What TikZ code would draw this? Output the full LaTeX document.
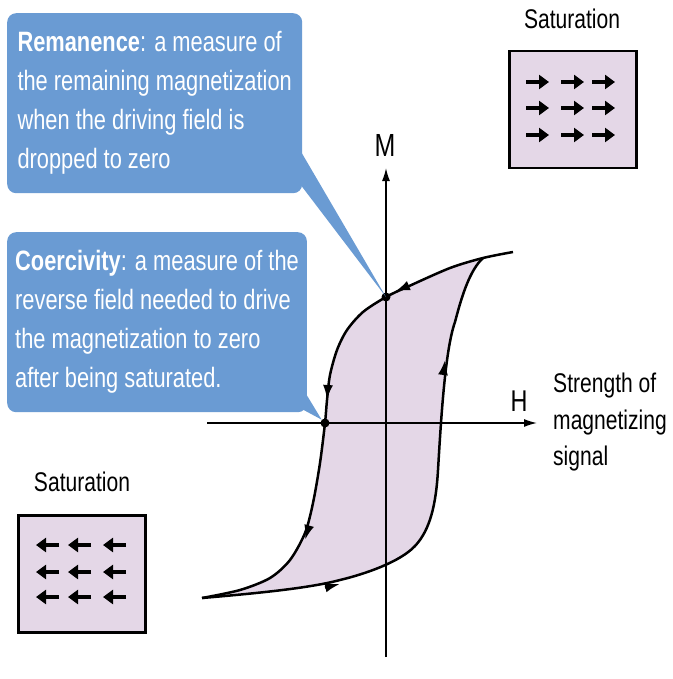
\documentclass[tikz,border=0pt]{standalone}
\usepackage{fontspec}
\setmainfont[FakeStretch=0.78]{Liberation Sans}
\usepackage{tikz}
\usetikzlibrary{arrows.meta,calc,positioning}
\definecolor{bubbleblue}{RGB}{106,155,211}
\definecolor{loopfill}{RGB}{228,215,231}
\tikzset{
  bubble/.style={fill=bubbleblue, rounded corners=9pt, text=white, align=left,
    inner xsep=8pt, minimum width=295pt, minimum height=180pt, anchor=north west,
    font=\fontsize{28}{39}\selectfont},
  satbox/.style={draw=black, line width=2.5pt, fill=loopfill, anchor=north west,
    minimum width=127pt, minimum height=117pt, inner sep=0pt},
  spin/.style={line width=3.6pt, -{Triangle[length=10pt,width=14pt]}},
  looptip/.style={line width=2.5pt, -{Latex[length=15pt,width=10pt]}},
  axis/.style={line width=1.4pt, -{Latex[length=13pt,width=8pt]}},
  dot/.style={circle, fill=black, inner sep=0pt, minimum size=9pt},
}

\begin{document}
\begin{tikzpicture}[x=1pt, y=-1pt, every node/.style={font=\fontsize{27}{36}\selectfont}]
\useasboundingbox (0,0) rectangle (672,679);
% Hysteresis loop (filled)
\fill[loopfill] (202,598) .. controls (260,593) and (310,588) .. (340,580)
    .. controls (365,574) and (400,562) .. (415,546)
    .. controls (430,530) and (436,505) .. (438,470)
    .. controls (441,420) and (445,350) .. (455,322)
    .. controls (462,295) and (470,270) .. (483,258)
  -- plot[smooth] coordinates {(483,258) (450,268) (407,287)
    (386,297) (363,312) (347,330) (337,350) (330,375) (327,400) (325,423) (320,463)
    (313,503) (305,533) (290,560) (270,578) (240,590) (202,598)} -- cycle;
% Axes
\coordinate (hstart) at (207,423);
\coordinate (hend) at (537,423);
\coordinate (mstart) at (386,657);
\coordinate (mend) at (386,168);
\draw[axis] (hstart) -- (hend);
\draw[axis] (mstart) -- (mend);
\node (hname) at (519,401) {\fontsize{30}{30}\selectfont H};
\node (mname) at (385,145) {\fontsize{32}{32}\selectfont M};
\node[anchor=north west, inner sep=0pt, align=left, font=\fontsize{27}{36.5}\selectfont]
  (hsignal) at (553,373) {Strength of\\magnetizing\\signal};
% Loop branches
\draw[line width=2.5pt]
  plot[smooth] coordinates {(513,252) (483,258) (450,268) (407,287)
    (386,297) (363,312) (347,330) (337,350) (330,375) (327,400) (325,423) (320,463)
    (313,503) (305,533) (290,560) (270,578) (240,590) (202,598)};
\draw[line width=2.5pt] (202,598) .. controls (260,593) and (310,588) .. (340,580)
    .. controls (365,574) and (400,562) .. (415,546)
    .. controls (430,530) and (436,505) .. (438,470)
    .. controls (441,420) and (445,350) .. (455,322)
    .. controls (462,295) and (470,270) .. (483,258);
% Direction marks
\draw[looptip] (408,286) -- (395,291.5);
\draw[looptip] (328,385) -- (327,400);
\draw[looptip] (309,526) -- (305,540);
\draw[looptip] (325,587.5) -- (340,584);
\draw[looptip] (443,375) -- (445,360);
% Remanence and coercivity points
\node[dot] (remdot) at (386,297) {};
\node[dot] (coedot) at (325,423) {};
% Callouts
\fill[bubbleblue] (300,150) -- (remdot.center) -- (300,184) -- cycle;
\fill[bubbleblue] (300,384) -- (coedot.north west) -- (300,408) -- cycle;
\node[bubble] (remanence) at (7,13)
  {\textbf{Remanence}: a measure of\\the remaining magnetization\\when the driving field is\\dropped to zero};
\node[bubble] (coercivity) at (7,232)
  {\textbf{Coercivity}: a measure of the\\reverse field needed to drive\\the magnetization to zero\\after being saturated.};
% Saturation domains
\node (satposname) at (572,19) {Saturation};
\node[satbox] (satpos) at (508,50) {};
\foreach \x in {537,572,603}
  \foreach \y in {82,108,135}
    \draw[spin] (\x-11,\y) -- (\x+12,\y);
\node (satnegname) at (82,482) {Saturation};
\node[satbox] (satneg) at (17,514) {};
\foreach \x in {48,80,115}
  \foreach \y in {545,572,597}
    \draw[spin] (\x+11,\y) -- (\x-12,\y);
\end{tikzpicture}
\end{document}
